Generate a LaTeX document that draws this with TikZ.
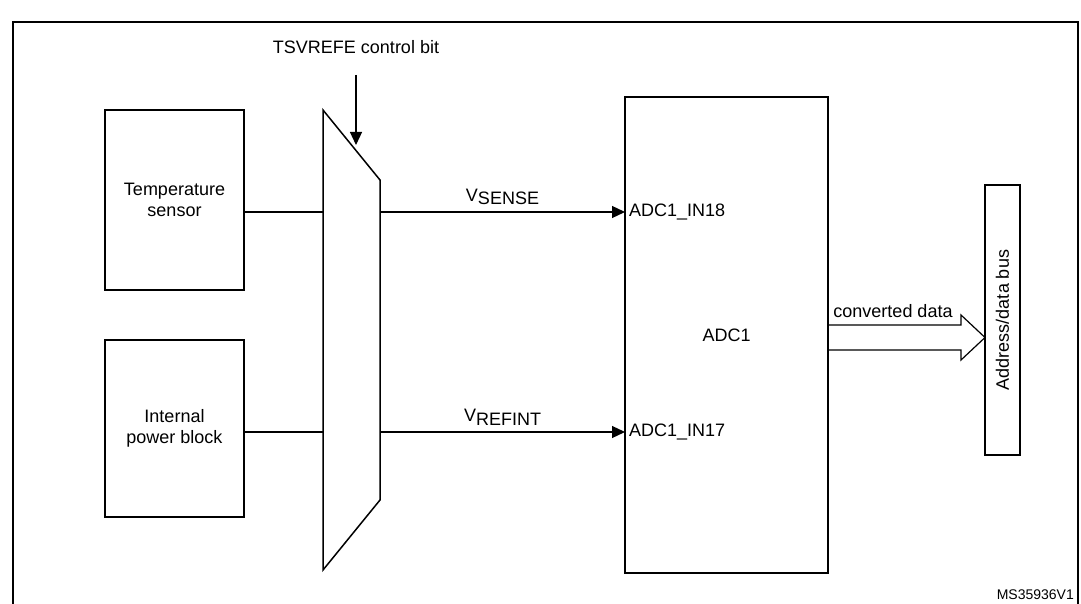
\documentclass[tikz,border=0pt]{standalone}
\usepackage{fontspec}
\setmainfont{Liberation Sans}
\usetikzlibrary{positioning,arrows.meta}

\newcommand{\lowsub}[1]{\raisebox{-0.35ex}{#1}}

\begin{document}
\begin{tikzpicture}[
    x=1pt, y=-1pt,
    every node/.style={font=\fontsize{18}{21}\selectfont},
    block/.style={rectangle, draw, line width=1.5pt, align=center, inner sep=0pt},
    sig/.style={-{Triangle[length=13pt,width=12pt]}, line width=1.2pt},
    wire/.style={line width=1.2pt}
]
\useasboundingbox (0,0) rectangle (1081,604);

% Frame
\draw[line width=1.5pt] (13,604) -- (13,22) -- (1078,22) -- (1078,604);

% Source blocks
\node (temp) [block, minimum width=139pt, minimum height=180pt] at (174.5,200) {Temperature\\sensor};
\node (power) [block, minimum width=139pt, minimum height=177pt] at (174.5,428.5) {Internal\\power block};

% Multiplexer
\draw[line width=1.5pt] (323,110) -- (380,180) -- (380,500) -- (323,570) -- cycle;
\coordinate (muxinA) at (323,212);
\coordinate (muxinB) at (323,432);
\coordinate (muxoutA) at (380,212);
\coordinate (muxoutB) at (380,432);
\node (ctrl) [inner sep=0pt] at (356,47) {TSVREFE control bit};
\coordinate (ctrlend) at (356,145);
\draw[sig] (356,75) -- (ctrlend);

% ADC
\node (adc) [block, minimum width=203pt, minimum height=476pt] at (726.5,335) {ADC1};
\coordinate (inA) at (625,212);
\coordinate (inB) at (625,432);
\node (in18) [anchor=west, inner sep=0pt] at ([xshift=4pt]inA) {ADC1\_IN18};
\node (in17) [anchor=west, inner sep=0pt] at ([xshift=4pt]inB) {ADC1\_IN17};

% Bus
\node (bus) [block, minimum width=35pt, minimum height=270pt] at (1002.5,320) {};
\node [rotate=90] at (bus.center) {Address/data bus};

% Wires
\draw[wire] (temp.east |- muxinA) -- (muxinA);
\draw[wire] (power.east |- muxinB) -- (muxinB);
\draw[sig] (muxoutA) -- node[above=3pt] {V\lowsub{SENSE}} (inA);
\draw[sig] (muxoutB) -- node[above=3pt] {V\lowsub{REFINT}} (inB);

% Converted data arrow
\draw[wire] (828,325) -- (961,325) -- (961,315) -- (985,337.5) -- (961,360) -- (961,350) -- (828,350);
\node (conv) [anchor=south] at (893,321) {converted data};

\node (ref) [anchor=south east, inner sep=0pt, font=\fontsize{14}{16}\selectfont] at (1074,600) {MS35936V1};
\end{tikzpicture}
\end{document}
